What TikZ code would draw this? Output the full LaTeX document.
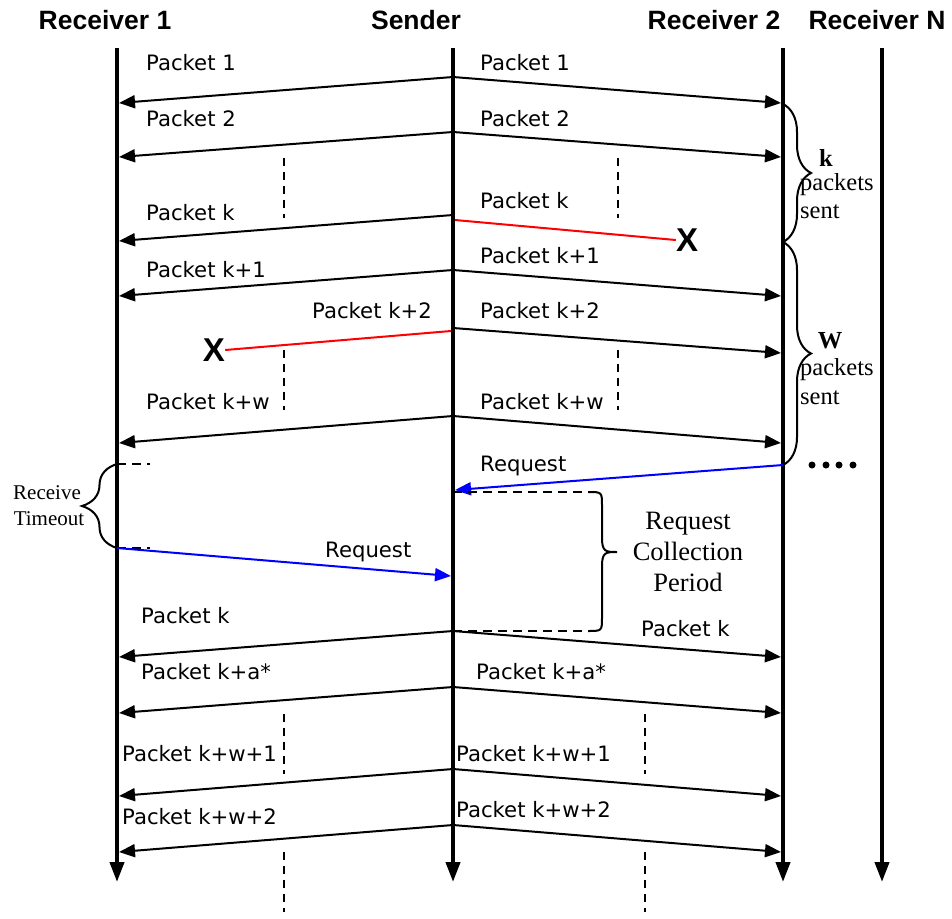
\documentclass[tikz,border=0pt]{standalone}
\usepackage{fontspec}
\setmainfont{Liberation Serif}
\newfontfamily\hdfont{Liberation Sans}
\newfontfamily\pktfont{DejaVu Sans}
\usetikzlibrary{arrows.meta,decorations.pathreplacing}

\begin{document}
\begin{tikzpicture}[x=1pt,y=-1pt,
  life/.style={line width=4pt,-{Triangle[length=20pt,width=14pt]}},
  msg/.style={line width=2pt,-{Triangle[length=16pt,width=13pt]}},
  lost/.style={line width=2pt,red},
  req/.style={line width=2pt,blue,-{Triangle[length=16pt,width=13pt]}},
  gap/.style={line width=1.5pt,dash pattern=on 8pt off 6pt},
  hd/.style={font=\hdfont\bfseries\fontsize{26.5}{30}\selectfont,inner sep=0pt},
  pkt/.style={font=\pktfont\fontsize{21.2}{24}\selectfont,anchor=west,inner sep=0pt},
  note/.style={font=\fontsize{24.5}{27}\selectfont,inner sep=0pt},
  bracestyle/.style={line width=2pt,decorate},
  xmark/.style={font=\hdfont\bfseries\fontsize{33}{33}\selectfont,inner sep=0pt}]

\useasboundingbox (0,0) rectangle (952,918);

% column headings
\node[hd] (h1) at (105,20) {Receiver 1};
\node[hd] (hs) at (416,20) {Sender};
\node[hd] (h2) at (714,20) {Receiver 2};
\node[hd] (hn) at (877,20) {Receiver N};

% lifelines
\coordinate (r1top) at (117,48);  \coordinate (r1bot) at (117,882);
\coordinate (sdtop) at (453,48);  \coordinate (sdbot) at (453,882);
\coordinate (r2top) at (783,48);  \coordinate (r2bot) at (783,882);
\coordinate (rntop) at (882,48);  \coordinate (rnbot) at (882,882);
\draw[life] (r1top) -- (r1bot);
\draw[life] (sdtop) -- (sdbot);
\draw[life] (r2top) -- (r2bot);
\draw[life] (rntop) -- (rnbot);

% packets delivered to both receivers: name / send height / arrival height
\foreach \n/\ys/\ye in {a/77/103, b/132/157, d/270/296, f/416/443,
                        g/631/657, h/687/713, i/769/796, j/825/852}{
  \coordinate (s\n) at (453,\ys);
  \coordinate (l\n) at (119,\ye);
  \coordinate (r\n) at (781,\ye);
  \draw[msg] (s\n) -- (l\n);
  \draw[msg] (s\n) -- (r\n);
}

% packet k: reaches receiver 1, lost towards receiver 2
\coordinate (sc) at (453,215);
\coordinate (lc) at (119,241);
\draw[msg] (sc) -- (lc);
\coordinate (sc2) at (455,220);
\node[xmark] (xk) at (687,240) {X};
\draw[lost] (sc2) -- (xk.west);

% packet k+2: lost towards receiver 1, reaches receiver 2
\coordinate (se) at (453,328);
\coordinate (re) at (781,353);
\draw[msg] (se) -- (re);
\coordinate (se2) at (451,331);
\node[xmark] (xw) at (214,350) {X};
\draw[lost] (se2) -- (xw.east);

% gaps in the packet sequence
\foreach \gx/\gy in {284/158, 618/158, 284/350, 618/350, 284/714, 645/714, 284/852, 645/852}{
  \draw[gap] (\gx,\gy) -- (\gx,\gy+60);
}

% packet labels, receiver 1 side
\node[pkt] (la) at (146,63) {Packet 1};
\node[pkt] (lb) at (146,119) {Packet 2};
\node[pkt] (lcx) at (146,213) {Packet k};
\node[pkt] (ld) at (146,270) {Packet k+1};
\node[pkt] (le) at (312,311) {Packet k+2};
\node[pkt] (lf) at (146,402) {Packet k+w};
\node[pkt] (lg) at (141,616) {Packet k};
\node[pkt] (lh) at (141,672) {Packet k+a*};
\node[pkt] (li) at (122,754) {Packet k+w+1};
\node[pkt] (lj) at (122,817) {Packet k+w+2};

% packet labels, receiver 2 side
\node[pkt] (ra1) at (480,63) {Packet 1};
\node[pkt] (rb1) at (480,119) {Packet 2};
\node[pkt] (rc1) at (480,201) {Packet k};
\node[pkt] (rd1) at (480,256) {Packet k+1};
\node[pkt] (re1) at (480,311) {Packet k+2};
\node[pkt] (rf1) at (480,402) {Packet k+w};
\node[pkt] (rg1) at (641,629) {Packet k};
\node[pkt] (rh1) at (476,672) {Packet k+a*};
\node[pkt] (ri1) at (456,754) {Packet k+w+1};
\node[pkt] (rj1) at (456,810) {Packet k+w+2};

% braces on receiver 2
\coordinate (kb1) at (783,104);
\coordinate (kb2) at (783,242);
\coordinate (wb2) at (783,465);
\draw[bracestyle,decoration={brace,amplitude=28pt}] (kb1) -- (kb2);
\draw[bracestyle,decoration={brace,amplitude=28pt}] (kb2) -- (wb2);
\node[note,font=\bfseries\fontsize{24.5}{27}\selectfont] (kk) at (826,158) {k};
\node[note,anchor=west] (kp) at (800,185) {packets};
\node[note,anchor=west] (ks) at (800,212) {sent};
\node[note,font=\bfseries\fontsize{24.5}{27}\selectfont] (ww) at (830,341) {W};
\node[note,anchor=west] (wp) at (800,370) {packets};
\node[note,anchor=west] (ws) at (800,398) {sent};

% more receivers
\foreach \dx in {812,826,839,853}{ \fill (\dx,465) circle (3.5pt); }

% request from receiver 2
\coordinate (sreq2) at (455,490);
\draw[req] (wb2) -- (sreq2);
\node[pkt] (tq2) at (480,466) {Request};

% receive timeout on receiver 1
\coordinate (rt1) at (117,464);
\coordinate (rt2) at (117,548);
\draw[line width=1.5pt,dash pattern=on 9pt off 6pt] (rt1) -- (150,464);
\draw[line width=1.5pt,dash pattern=on 9pt off 6pt] (rt2) -- (150,548);
\draw[bracestyle,decoration={brace,amplitude=35pt}] (rt2) -- (rt1);
\node[note,font=\fontsize{21}{23}\selectfont] (rtx1) at (47,493) {Receive};
\node[note,font=\fontsize{21}{23}\selectfont] (rtx2) at (49,519) {Timeout};

% request from receiver 1
\coordinate (sreq1) at (451,576);
\draw[req] (rt2) -- (sreq1);
\node[pkt] (tq1) at (325,552) {Request};

% request collection period on the sender
\coordinate (rc1a) at (453,492);
\coordinate (rc1b) at (588,492);
\coordinate (rc2a) at (453,631);
\coordinate (rc2b) at (588,631);
\draw[line width=1.5pt,dash pattern=on 9pt off 6pt] (rc1a) -- (rc1b);
\draw[line width=1.5pt,dash pattern=on 9pt off 6pt] (rc2a) -- (rc2b);
\draw[line width=2pt]
  (rc1b) .. controls (602,492) .. (602,506) -- (602,538)
  .. controls (602,552) and (606,552) .. (617,552)
  .. controls (606,552) and (602,552) .. (602,566) -- (602,617)
  .. controls (602,631) .. (rc2b);
\node[note,font=\fontsize{26.5}{31}\selectfont,align=center,fill=white,inner sep=4pt]
  (rcp) at (688,552) {Request\\Collection\\Period};

\end{tikzpicture}
\end{document}
